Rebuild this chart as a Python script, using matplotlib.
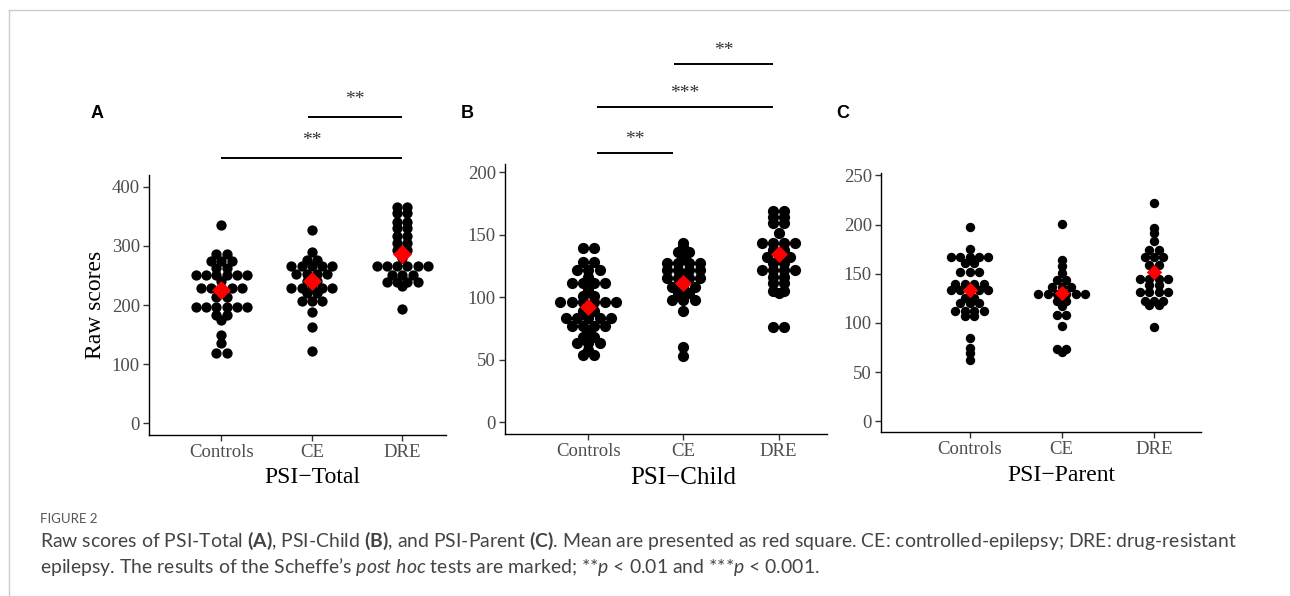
import numpy as np
import matplotlib
matplotlib.use("Agg")
import matplotlib.pyplot as plt
from matplotlib.lines import Line2D
from matplotlib import transforms

plt.rcParams['mathtext.fontset'] = 'custom'
plt.rcParams['mathtext.rm'] = 'Lato'
plt.rcParams['mathtext.bf'] = 'Lato:bold'
plt.rcParams['mathtext.it'] = 'Lato:italic'

W, H = 1290, 596
fig = plt.figure(figsize=(W / 100, H / 100), dpi=100)

# ---------------- data ----------------
groups = ["Controls", "CE", "DRE"]

total_controls = [335, 286, 286, 274, 274, 274, 262, 262, 250, 250, 250, 250, 250, 250, 240,
                  229, 229, 229, 229, 229, 214, 214, 197, 197, 197, 197, 197, 197, 183, 183,
                  175, 149, 135, 119, 119]
total_ce = [326, 289, 276, 276, 266, 266, 266, 266, 266, 253, 253, 253, 253, 241, 241,
            229, 229, 229, 229, 229, 220, 220, 207, 207, 207, 188, 162, 123]
total_dre = [365, 365, 356, 356, 341, 341, 330, 330, 317, 317, 304, 304, 293, 293, 280,
             266, 266, 266, 266, 266, 266, 251, 251, 251, 239, 239, 239, 239, 232, 194]
total_means = [226, 241, 286]

child_controls = [139, 139, 128, 128, 122, 122, 122, 116, 111, 111, 111, 111, 106, 101, 101,
                  96, 96, 96, 96, 96, 96, 92, 89, 89, 83, 83, 83, 83, 83, 77, 77, 77, 77,
                  74, 68, 68, 63, 63, 63, 58, 54, 54]
child_ce = [143, 140, 136, 136, 132, 127, 127, 127, 127, 122, 122, 122, 122, 118, 115, 115,
            115, 115, 111, 108, 108, 108, 103, 103, 98, 98, 98, 89, 60, 53]
child_dre = [169, 169, 164, 164, 159, 159, 151, 143, 143, 143, 143, 138, 138, 132, 132, 132,
             127, 127, 122, 122, 122, 122, 116, 116, 111, 111, 105, 105, 103, 76, 76]
child_means = [92.5, 111, 134.6]

parent_controls = [197, 175, 167, 167, 167, 167, 167, 161, 161, 152, 152, 152, 140, 140, 140,
                   140, 133, 133, 133, 133, 133, 125, 125, 120, 120, 120, 112, 112, 112, 112,
                   107, 107, 85, 75, 69, 62]
parent_ce = [201, 164, 158, 151, 144, 144, 137, 137, 137, 129, 129, 129, 129, 129, 129, 122,
             122, 117, 108, 108, 97, 73, 73, 70]
parent_dre = [222, 196, 191, 183, 174, 174, 167, 167, 167, 159, 159, 145, 145, 145, 145, 139,
              139, 131, 131, 131, 131, 122, 122, 122, 118, 118, 96]
parent_means = [133, 130, 152]

panel_titles = ["PSI\u2212Total", "PSI\u2212Child", "PSI\u2212Parent"]
panel_letters = ["A", "B", "C"]
yticks_list = [[0, 100, 200, 300, 400], [0, 50, 100, 150, 200], [0, 50, 100, 150, 200, 250]]

# significance: (x_from, x_to, line_y, label)
sig_total = [(0.99, 3.0, 448, "**"), (1.96, 3.0, 518, "**")]
sig_child = [(1.09, 1.895, 215, "**"), (1.09, 2.94, 252, "***"), (1.905, 2.94, 286, "**")]
sig_parent = []

# ---------------- layout (pixels) ----------------
panels = [
    dict(rect=(149, 175, 446, 435), ylim=(-19.8, 419.8), xlim=(0.198, 3.484), dot=10.3, ms=93,
         data=[total_controls, total_ce, total_dre], means=total_means, sig=sig_total,
         title_size=17, title_base=483, star_off=17.5),
    dict(rect=(505, 164, 827, 434), ylim=(-9.4, 206.4), xlim=(0.123, 3.51), dot=11.2, ms=75,
         data=[child_controls, child_ce, child_dre], means=child_means, sig=sig_child,
         title_size=18, title_base=484, star_off=13.5),
    dict(rect=(881, 173, 1201, 432), ylim=(-10.9, 252.4), xlim=(0.04, 3.51), dot=9.4, ms=62,
         data=[parent_controls, parent_ce, parent_dre], means=parent_means, sig=sig_parent,
         title_size=17, title_base=481, star_off=15),
]
letter_pos = [(97, 113), (467, 113), (843, 113)]

serif = "Liberation Serif"

for k, p in enumerate(panels):
    l, t, r, b = p["rect"]
    ax = fig.add_axes([l / W, 1 - b / H, (r - l) / W, (b - t) / H])
    ax.set_xlim(*p["xlim"])
    ax.set_ylim(*p["ylim"])
    ppu = (r - l) / (p["xlim"][1] - p["xlim"][0])
    ppu_y = (b - t) / (p["ylim"][1] - p["ylim"][0])
    step = p["dot"] / ppu
    s_dot = (p["dot"] * 0.72) ** 2
    for i, vals in enumerate(p["data"]):
        u, c = np.unique(vals, return_counts=True)
        for y, n in zip(u, c):
            xs = i + 1 + (np.arange(n) - (n - 1) / 2) * step
            ax.scatter(xs, [y] * n, s=s_dot, c="black", linewidths=0, zorder=2)
    ax.scatter(np.arange(1, 4), p["means"], marker="D", s=p["ms"], c="#ff0000",
               linewidths=0, zorder=3)

    for side in ["top", "right"]:
        ax.spines[side].set_visible(False)
    for side in ["left", "bottom"]:
        ax.spines[side].set_linewidth(1.0)
        ax.spines[side].set_color("black")
    ax.set_xticks([1, 2, 3])
    ax.set_xticklabels(groups)
    ax.set_yticks(yticks_list[k])
    ax.tick_params(axis="both", direction="out", length=4, width=1.0, color="#333333",
                   labelcolor="#4d4d4d", labelsize=13.5, pad=2.5)
    for lab in ax.get_xticklabels() + ax.get_yticklabels():
        lab.set_family(serif)

    tr = transforms.blended_transform_factory(ax.transData, fig.transFigure)
    ax.text(2, 1 - p["title_base"] / H, panel_titles[k], transform=tr, ha="center",
            va="baseline", family=serif, fontsize=p["title_size"], color="black")

    for (x1, x2, yl, lab) in p["sig"]:
        ax.plot([x1, x2], [yl, yl], color="black", lw=1.4, clip_on=False,
                solid_capstyle="butt")
        ax.text((x1 + x2) / 2, yl + p["star_off"] / ppu_y, lab, ha="center", va="center",
                family=serif, fontsize=14, color="#333333", clip_on=False)

    lx, ly = letter_pos[k]
    fig.text(lx / W, 1 - ly / H, panel_letters[k], ha="center", va="center",
             family="Liberation Sans", fontweight="bold", fontsize=13)

fig.text(95 / W, 1 - 305 / H, "Raw scores", rotation=90, ha="center", va="center",
         family=serif, fontsize=17, color="black")

# frame lines
fig.add_artist(Line2D([9 / W, 9 / W], [0, 1 - 10 / H], color="#cccccc", lw=1))
fig.add_artist(Line2D([9 / W, 1], [1 - 10 / H, 1 - 10 / H], color="#cccccc", lw=1))

# caption
fig.text(40 / W, 1 - 519 / H, "FIGURE 2", ha="left", va="center", family="Lato",
         fontsize=9.5, color="#555555")
line1 = ("Raw scores of PSI-Total $\\mathbf{(A)}$, PSI-Child $\\mathbf{(B)}$, and PSI-Parent "
         "$\\mathbf{(C)}$. Mean are presented as red square. CE: controlled-epilepsy; DRE: drug-resistant")
line2 = ("epilepsy. The results of the Scheffe\u2019s $\\mathit{post\\ hoc}$ tests are marked; "
         "**$\\mathit{p}$ < 0.01 and ***$\\mathit{p}$ < 0.001.")
fig.text(40 / W, 1 - 541 / H, line1, ha="left", va="center", family="Lato", fontsize=13.95,
         color="#444444")
fig.text(40 / W, 1 - 567 / H, line2, ha="left", va="center", family="Lato", fontsize=13.95,
         color="#444444")

fig.savefig("out.png", dpi=100)
